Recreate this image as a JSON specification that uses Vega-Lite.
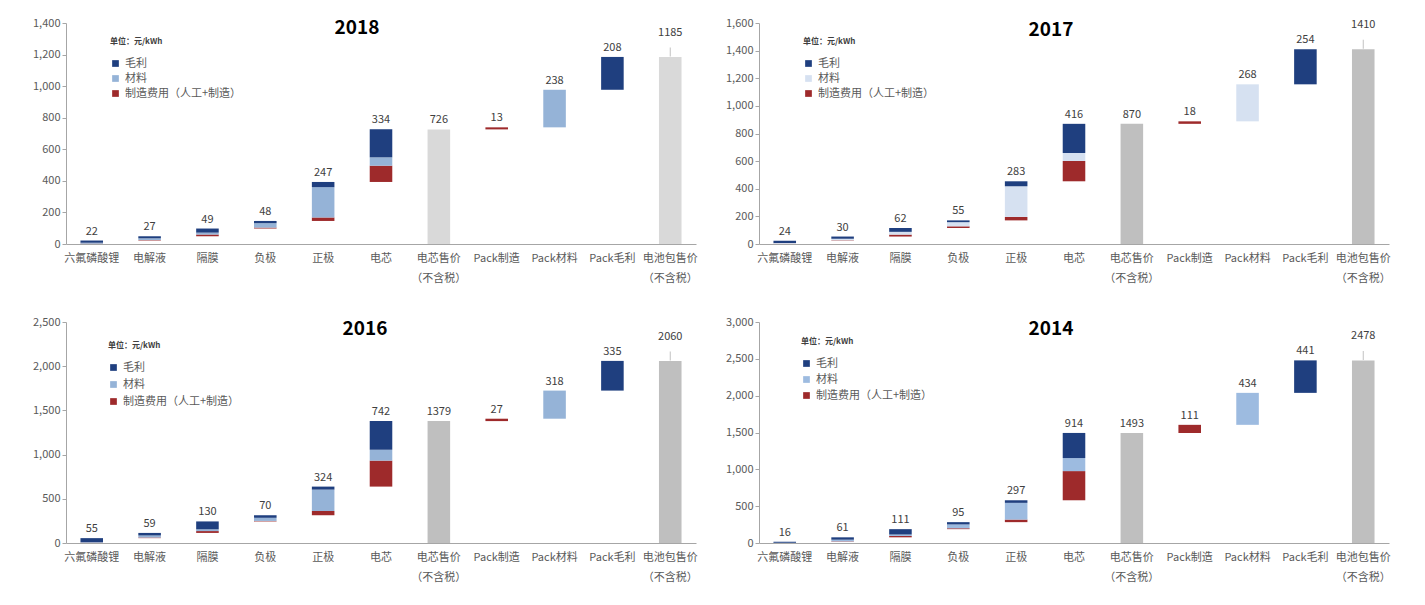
{
  "$schema": "https://vega.github.io/schema/vega-lite/v6.json",
  "background": "white",
  "padding": {"left": 32, "top": 17, "right": 10, "bottom": 5},
  "spacing": {"row": 33, "column": 27},
  "config": {
    "font": "Noto Sans CJK SC",
    "view": {"stroke": null},
    "axis": {"labelColor": "#595959", "labelFontSize": 11, "domainColor": "#a6a6a6", "tickColor": "#a6a6a6", "grid": false, "title": null},
    "title": {"font": "Noto Sans CJK SC", "fontSize": 19, "fontWeight": "bold", "color": "#000000"},
    "legend": {"labelFont": "Noto Sans CJK SC", "titleFont": "Noto Sans CJK SC"}
  },
  "datasets": {
    "seg": [
      {"p":"2018","c":"六氟磷酸锂","s":"制造费用（人工+制造）","a":0,"b":2},
      {"p":"2018","c":"六氟磷酸锂","s":"材料","a":2,"b":8},
      {"p":"2018","c":"六氟磷酸锂","s":"毛利","a":8,"b":22},
      {"p":"2018","c":"电解液","s":"制造费用（人工+制造）","a":22,"b":25},
      {"p":"2018","c":"电解液","s":"材料","a":25,"b":36},
      {"p":"2018","c":"电解液","s":"毛利","a":36,"b":49},
      {"p":"2018","c":"隔膜","s":"制造费用（人工+制造）","a":49,"b":60},
      {"p":"2018","c":"隔膜","s":"材料","a":60,"b":72},
      {"p":"2018","c":"隔膜","s":"毛利","a":72,"b":98},
      {"p":"2018","c":"负极","s":"制造费用（人工+制造）","a":98,"b":104},
      {"p":"2018","c":"负极","s":"材料","a":104,"b":132},
      {"p":"2018","c":"负极","s":"毛利","a":132,"b":146},
      {"p":"2018","c":"正极","s":"制造费用（人工+制造）","a":146,"b":168},
      {"p":"2018","c":"正极","s":"材料","a":168,"b":360},
      {"p":"2018","c":"正极","s":"毛利","a":360,"b":393},
      {"p":"2018","c":"电芯","s":"制造费用（人工+制造）","a":393,"b":496},
      {"p":"2018","c":"电芯","s":"材料","a":496,"b":549},
      {"p":"2018","c":"电芯","s":"毛利","a":549,"b":727},
      {"p":"2018","c":"电芯售价|（不含税）","s":"售价","a":0,"b":726},
      {"p":"2018","c":"Pack制造","s":"制造费用（人工+制造）","a":726,"b":739},
      {"p":"2018","c":"Pack材料","s":"材料","a":739,"b":977},
      {"p":"2018","c":"Pack毛利","s":"毛利","a":977,"b":1185},
      {"p":"2018","c":"电池包售价|（不含税）","s":"售价","a":0,"b":1185},

      {"p":"2017","c":"六氟磷酸锂","s":"制造费用（人工+制造）","a":0,"b":2},
      {"p":"2017","c":"六氟磷酸锂","s":"材料","a":2,"b":8},
      {"p":"2017","c":"六氟磷酸锂","s":"毛利","a":8,"b":24},
      {"p":"2017","c":"电解液","s":"制造费用（人工+制造）","a":24,"b":27},
      {"p":"2017","c":"电解液","s":"材料","a":27,"b":38},
      {"p":"2017","c":"电解液","s":"毛利","a":38,"b":54},
      {"p":"2017","c":"隔膜","s":"制造费用（人工+制造）","a":54,"b":68},
      {"p":"2017","c":"隔膜","s":"材料","a":68,"b":88},
      {"p":"2017","c":"隔膜","s":"毛利","a":88,"b":116},
      {"p":"2017","c":"负极","s":"制造费用（人工+制造）","a":116,"b":128},
      {"p":"2017","c":"负极","s":"材料","a":128,"b":158},
      {"p":"2017","c":"负极","s":"毛利","a":158,"b":171},
      {"p":"2017","c":"正极","s":"制造费用（人工+制造）","a":171,"b":196},
      {"p":"2017","c":"正极","s":"材料","a":196,"b":418},
      {"p":"2017","c":"正极","s":"毛利","a":418,"b":454},
      {"p":"2017","c":"电芯","s":"制造费用（人工+制造）","a":454,"b":601},
      {"p":"2017","c":"电芯","s":"材料","a":601,"b":659},
      {"p":"2017","c":"电芯","s":"毛利","a":659,"b":870},
      {"p":"2017","c":"电芯售价|（不含税）","s":"售价","a":0,"b":870},
      {"p":"2017","c":"Pack制造","s":"制造费用（人工+制造）","a":870,"b":888},
      {"p":"2017","c":"Pack材料","s":"材料","a":888,"b":1156},
      {"p":"2017","c":"Pack毛利","s":"毛利","a":1156,"b":1410},
      {"p":"2017","c":"电池包售价|（不含税）","s":"售价","a":0,"b":1410},

      {"p":"2016","c":"六氟磷酸锂","s":"制造费用（人工+制造）","a":0,"b":3},
      {"p":"2016","c":"六氟磷酸锂","s":"材料","a":3,"b":10},
      {"p":"2016","c":"六氟磷酸锂","s":"毛利","a":10,"b":55},
      {"p":"2016","c":"电解液","s":"制造费用（人工+制造）","a":55,"b":62},
      {"p":"2016","c":"电解液","s":"材料","a":62,"b":85},
      {"p":"2016","c":"电解液","s":"毛利","a":85,"b":114},
      {"p":"2016","c":"隔膜","s":"制造费用（人工+制造）","a":114,"b":135},
      {"p":"2016","c":"隔膜","s":"材料","a":135,"b":155},
      {"p":"2016","c":"隔膜","s":"毛利","a":155,"b":244},
      {"p":"2016","c":"负极","s":"制造费用（人工+制造）","a":244,"b":250},
      {"p":"2016","c":"负极","s":"材料","a":250,"b":285},
      {"p":"2016","c":"负极","s":"毛利","a":285,"b":314},
      {"p":"2016","c":"正极","s":"制造费用（人工+制造）","a":314,"b":362},
      {"p":"2016","c":"正极","s":"材料","a":362,"b":604},
      {"p":"2016","c":"正极","s":"毛利","a":604,"b":638},
      {"p":"2016","c":"电芯","s":"制造费用（人工+制造）","a":638,"b":932},
      {"p":"2016","c":"电芯","s":"材料","a":932,"b":1055},
      {"p":"2016","c":"电芯","s":"毛利","a":1055,"b":1380},
      {"p":"2016","c":"电芯售价|（不含税）","s":"售价","a":0,"b":1379},
      {"p":"2016","c":"Pack制造","s":"制造费用（人工+制造）","a":1379,"b":1406},
      {"p":"2016","c":"Pack材料","s":"材料","a":1406,"b":1724},
      {"p":"2016","c":"Pack毛利","s":"毛利","a":1724,"b":2060},
      {"p":"2016","c":"电池包售价|（不含税）","s":"售价","a":0,"b":2060},

      {"p":"2014","c":"六氟磷酸锂","s":"制造费用（人工+制造）","a":0,"b":1},
      {"p":"2014","c":"六氟磷酸锂","s":"材料","a":1,"b":5},
      {"p":"2014","c":"六氟磷酸锂","s":"毛利","a":5,"b":16},
      {"p":"2014","c":"电解液","s":"制造费用（人工+制造）","a":16,"b":22},
      {"p":"2014","c":"电解液","s":"材料","a":22,"b":45},
      {"p":"2014","c":"电解液","s":"毛利","a":45,"b":77},
      {"p":"2014","c":"隔膜","s":"制造费用（人工+制造）","a":77,"b":95},
      {"p":"2014","c":"隔膜","s":"材料","a":95,"b":115},
      {"p":"2014","c":"隔膜","s":"毛利","a":115,"b":188},
      {"p":"2014","c":"负极","s":"制造费用（人工+制造）","a":188,"b":200},
      {"p":"2014","c":"负极","s":"材料","a":200,"b":252},
      {"p":"2014","c":"负极","s":"毛利","a":252,"b":283},
      {"p":"2014","c":"正极","s":"制造费用（人工+制造）","a":283,"b":318},
      {"p":"2014","c":"正极","s":"材料","a":318,"b":545},
      {"p":"2014","c":"正极","s":"毛利","a":545,"b":580},
      {"p":"2014","c":"电芯","s":"制造费用（人工+制造）","a":580,"b":976},
      {"p":"2014","c":"电芯","s":"材料","a":976,"b":1153},
      {"p":"2014","c":"电芯","s":"毛利","a":1153,"b":1494},
      {"p":"2014","c":"电芯售价|（不含税）","s":"售价","a":0,"b":1493},
      {"p":"2014","c":"Pack制造","s":"制造费用（人工+制造）","a":1493,"b":1604},
      {"p":"2014","c":"Pack材料","s":"材料","a":1604,"b":2038},
      {"p":"2014","c":"Pack毛利","s":"毛利","a":2038,"b":2479},
      {"p":"2014","c":"电池包售价|（不含税）","s":"售价","a":0,"b":2478}
    ],
    "lab": [
      {"p":"2018","c":"六氟磷酸锂","v":"22","t":22},
      {"p":"2018","c":"电解液","v":"27","t":49},
      {"p":"2018","c":"隔膜","v":"49","t":98},
      {"p":"2018","c":"负极","v":"48","t":146},
      {"p":"2018","c":"正极","v":"247","t":393},
      {"p":"2018","c":"电芯","v":"334","t":727},
      {"p":"2018","c":"电芯售价|（不含税）","v":"726","t":726},
      {"p":"2018","c":"Pack制造","v":"13","t":739},
      {"p":"2018","c":"Pack材料","v":"238","t":977},
      {"p":"2018","c":"Pack毛利","v":"208","t":1185},
      {"p":"2018","c":"电池包售价|（不含税）","v":"1185","t":1185},
      {"p":"2017","c":"六氟磷酸锂","v":"24","t":24},
      {"p":"2017","c":"电解液","v":"30","t":54},
      {"p":"2017","c":"隔膜","v":"62","t":116},
      {"p":"2017","c":"负极","v":"55","t":171},
      {"p":"2017","c":"正极","v":"283","t":454},
      {"p":"2017","c":"电芯","v":"416","t":870},
      {"p":"2017","c":"电芯售价|（不含税）","v":"870","t":870},
      {"p":"2017","c":"Pack制造","v":"18","t":888},
      {"p":"2017","c":"Pack材料","v":"268","t":1156},
      {"p":"2017","c":"Pack毛利","v":"254","t":1410},
      {"p":"2017","c":"电池包售价|（不含税）","v":"1410","t":1410},
      {"p":"2016","c":"六氟磷酸锂","v":"55","t":55},
      {"p":"2016","c":"电解液","v":"59","t":114},
      {"p":"2016","c":"隔膜","v":"130","t":244},
      {"p":"2016","c":"负极","v":"70","t":314},
      {"p":"2016","c":"正极","v":"324","t":638},
      {"p":"2016","c":"电芯","v":"742","t":1380},
      {"p":"2016","c":"电芯售价|（不含税）","v":"1379","t":1379},
      {"p":"2016","c":"Pack制造","v":"27","t":1406},
      {"p":"2016","c":"Pack材料","v":"318","t":1724},
      {"p":"2016","c":"Pack毛利","v":"335","t":2060},
      {"p":"2016","c":"电池包售价|（不含税）","v":"2060","t":2060},
      {"p":"2014","c":"六氟磷酸锂","v":"16","t":16},
      {"p":"2014","c":"电解液","v":"61","t":77},
      {"p":"2014","c":"隔膜","v":"111","t":188},
      {"p":"2014","c":"负极","v":"95","t":283},
      {"p":"2014","c":"正极","v":"297","t":580},
      {"p":"2014","c":"电芯","v":"914","t":1494},
      {"p":"2014","c":"电芯售价|（不含税）","v":"1493","t":1493},
      {"p":"2014","c":"Pack制造","v":"111","t":1604},
      {"p":"2014","c":"Pack材料","v":"434","t":2038},
      {"p":"2014","c":"Pack毛利","v":"441","t":2479},
      {"p":"2014","c":"电池包售价|（不含税）","v":"2478","t":2478}
    ]
  },
  "columns": 2,
  "resolve": {"scale": {"y": "independent", "color": "independent", "x": "independent"}, "legend": {"color": "independent"}, "axis": {"y": "independent", "x": "independent"}},
  "concat": [
    {
      "title": {"text": "2018", "offset": -21, "dx": -24},
      "width": 630, "height": 221,
      "layer": [
        {"data": {"name": "seg"}, "transform": [{"filter": "datum.p == '2018'"}],
         "mark": {"type": "bar"},
         "encoding": {
           "x": {"field": "c", "type": "nominal", "sort": null, "scale": {"domain": ["六氟磷酸锂","电解液","隔膜","负极","正极","电芯","电芯售价|（不含税）","Pack制造","Pack材料","Pack毛利","电池包售价|（不含税）"], "paddingInner": 0.61, "paddingOuter": 0.25}, "axis": {"labelAngle": 0, "ticks": false, "labelExpr": "split(datum.label, '|')", "labelPadding": 8, "labelLineHeight": 20}},
           "y": {"field": "a", "type": "quantitative", "scale": {"domain": [0, 1400], "nice": false}, "axis": {"values": [0,200,400,600,800,1000,1200,1400], "tickCount": 20, "format": ",.0f", "tickSize": 4, "labelOverlap": false}},
           "y2": {"field": "b"},
           "color": {"field": "s", "type": "nominal", "scale": {"domain": ["毛利","材料","制造费用（人工+制造）","售价"], "range": ["#1f3f7f","#95b3d7","#9e2a2b","#d9d9d9"]},
             "legend": {"values": ["毛利","材料","制造费用（人工+制造）"], "title": "单位：元/kWh", "titleFontSize": 8, "titleFontWeight": "bold", "titleColor": "#404040", "titlePadding": 12, "labelFontSize": 11, "labelColor": "#595959", "symbolType": "square", "symbolSize": 45, "rowPadding": 3, "orient": "none", "legendX": 44, "legendY": 15}}
         }},
        {"data": {"name": "lab"}, "transform": [{"filter": "datum.p == '2018' && datum.c != '电池包售价|（不含税）'"}],
         "mark": {"type": "text", "dy": -9, "fontSize": 11, "color": "#404040"},
         "encoding": {"x": {"field": "c", "type": "nominal", "sort": null}, "y": {"field": "t", "type": "quantitative"}, "text": {"field": "v"}}},
        {"data": {"name": "lab"}, "transform": [{"filter": "datum.p == '2018' && datum.c == '电池包售价|（不含税）'"}],
         "mark": {"type": "text", "dy": -24, "fontSize": 11, "color": "#404040"},
         "encoding": {"x": {"field": "c", "type": "nominal", "sort": null}, "y": {"field": "t", "type": "quantitative"}, "text": {"field": "v"}}},
        {"data": {"name": "lab"}, "transform": [{"filter": "datum.p == '2018' && datum.c == '电池包售价|（不含税）'"}],
         "mark": {"type": "tick", "orient": "vertical", "size": 9, "thickness": 1, "yOffset": -5, "color": "#a6a6a6"},
         "encoding": {"x": {"field": "c", "type": "nominal", "sort": null}, "y": {"field": "t", "type": "quantitative"}}}
      ]
    },
    {
      "title": {"text": "2017", "offset": -23, "dx": -23},
      "width": 630, "height": 221,
      "layer": [
        {"data": {"name": "seg"}, "transform": [{"filter": "datum.p == '2017'"}],
         "mark": {"type": "bar"},
         "encoding": {
           "x": {"field": "c", "type": "nominal", "sort": null, "scale": {"domain": ["六氟磷酸锂","电解液","隔膜","负极","正极","电芯","电芯售价|（不含税）","Pack制造","Pack材料","Pack毛利","电池包售价|（不含税）"], "paddingInner": 0.61, "paddingOuter": 0.25}, "axis": {"labelAngle": 0, "ticks": false, "labelExpr": "split(datum.label, '|')", "labelPadding": 8, "labelLineHeight": 20}},
           "y": {"field": "a", "type": "quantitative", "scale": {"domain": [0, 1600], "nice": false}, "axis": {"values": [0,200,400,600,800,1000,1200,1400,1600], "tickCount": 20, "format": ",.0f", "tickSize": 4, "labelOverlap": false}},
           "y2": {"field": "b"},
           "color": {"field": "s", "type": "nominal", "scale": {"domain": ["毛利","材料","制造费用（人工+制造）","售价"], "range": ["#1f3f7f","#d6e1f1","#9e2a2b","#bfbfbf"]},
             "legend": {"values": ["毛利","材料","制造费用（人工+制造）"], "title": "单位：元/kWh", "titleFontSize": 8, "titleFontWeight": "bold", "titleColor": "#404040", "titlePadding": 12, "labelFontSize": 11, "labelColor": "#595959", "symbolType": "square", "symbolSize": 45, "rowPadding": 3, "orient": "none", "legendX": 44, "legendY": 15}}
         }},
        {"data": {"name": "lab"}, "transform": [{"filter": "datum.p == '2017' && datum.c != '电池包售价|（不含税）'"}],
         "mark": {"type": "text", "dy": -9, "fontSize": 11, "color": "#404040"},
         "encoding": {"x": {"field": "c", "type": "nominal", "sort": null}, "y": {"field": "t", "type": "quantitative"}, "text": {"field": "v"}}},
        {"data": {"name": "lab"}, "transform": [{"filter": "datum.p == '2017' && datum.c == '电池包售价|（不含税）'"}],
         "mark": {"type": "text", "dy": -24, "fontSize": 11, "color": "#404040"},
         "encoding": {"x": {"field": "c", "type": "nominal", "sort": null}, "y": {"field": "t", "type": "quantitative"}, "text": {"field": "v"}}},
        {"data": {"name": "lab"}, "transform": [{"filter": "datum.p == '2017' && datum.c == '电池包售价|（不含税）'"}],
         "mark": {"type": "tick", "orient": "vertical", "size": 9, "thickness": 1, "yOffset": -5, "color": "#a6a6a6"},
         "encoding": {"x": {"field": "c", "type": "nominal", "sort": null}, "y": {"field": "t", "type": "quantitative"}}}
      ]
    },
    {
      "title": {"text": "2016", "offset": -23, "dx": -16},
      "width": 630, "height": 221,
      "layer": [
        {"data": {"name": "seg"}, "transform": [{"filter": "datum.p == '2016'"}],
         "mark": {"type": "bar"},
         "encoding": {
           "x": {"field": "c", "type": "nominal", "sort": null, "scale": {"domain": ["六氟磷酸锂","电解液","隔膜","负极","正极","电芯","电芯售价|（不含税）","Pack制造","Pack材料","Pack毛利","电池包售价|（不含税）"], "paddingInner": 0.61, "paddingOuter": 0.25}, "axis": {"labelAngle": 0, "ticks": false, "labelExpr": "split(datum.label, '|')", "labelPadding": 8, "labelLineHeight": 20}},
           "y": {"field": "a", "type": "quantitative", "scale": {"domain": [0, 2500], "nice": false}, "axis": {"values": [0,500,1000,1500,2000,2500], "tickCount": 20, "format": ",.0f", "tickSize": 4, "labelOverlap": false}},
           "y2": {"field": "b"},
           "color": {"field": "s", "type": "nominal", "scale": {"domain": ["毛利","材料","制造费用（人工+制造）","售价"], "range": ["#1f3f7f","#95b3d7","#9e2a2b","#bfbfbf"]},
             "legend": {"values": ["毛利","材料","制造费用（人工+制造）"], "title": "单位：元/kWh", "titleFontSize": 8, "titleFontWeight": "bold", "titleColor": "#404040", "titlePadding": 12, "labelFontSize": 11, "labelColor": "#595959", "symbolType": "square", "symbolSize": 45, "rowPadding": 5, "orient": "none", "legendX": 42, "legendY": 20}}
         }},
        {"data": {"name": "lab"}, "transform": [{"filter": "datum.p == '2016' && datum.c != '电池包售价|（不含税）'"}],
         "mark": {"type": "text", "dy": -9, "fontSize": 11, "color": "#404040"},
         "encoding": {"x": {"field": "c", "type": "nominal", "sort": null}, "y": {"field": "t", "type": "quantitative"}, "text": {"field": "v"}}},
        {"data": {"name": "lab"}, "transform": [{"filter": "datum.p == '2016' && datum.c == '电池包售价|（不含税）'"}],
         "mark": {"type": "text", "dy": -24, "fontSize": 11, "color": "#404040"},
         "encoding": {"x": {"field": "c", "type": "nominal", "sort": null}, "y": {"field": "t", "type": "quantitative"}, "text": {"field": "v"}}},
        {"data": {"name": "lab"}, "transform": [{"filter": "datum.p == '2016' && datum.c == '电池包售价|（不含税）'"}],
         "mark": {"type": "tick", "orient": "vertical", "size": 9, "thickness": 1, "yOffset": -5, "color": "#a6a6a6"},
         "encoding": {"x": {"field": "c", "type": "nominal", "sort": null}, "y": {"field": "t", "type": "quantitative"}}}
      ]
    },
    {
      "title": {"text": "2014", "offset": -23, "dx": -23},
      "width": 630, "height": 221,
      "layer": [
        {"data": {"name": "seg"}, "transform": [{"filter": "datum.p == '2014'"}],
         "mark": {"type": "bar"},
         "encoding": {
           "x": {"field": "c", "type": "nominal", "sort": null, "scale": {"domain": ["六氟磷酸锂","电解液","隔膜","负极","正极","电芯","电芯售价|（不含税）","Pack制造","Pack材料","Pack毛利","电池包售价|（不含税）"], "paddingInner": 0.61, "paddingOuter": 0.25}, "axis": {"labelAngle": 0, "ticks": false, "labelExpr": "split(datum.label, '|')", "labelPadding": 8, "labelLineHeight": 20}},
           "y": {"field": "a", "type": "quantitative", "scale": {"domain": [0, 3000], "nice": false}, "axis": {"values": [0,500,1000,1500,2000,2500,3000], "tickCount": 20, "format": ",.0f", "tickSize": 4, "labelOverlap": false}},
           "y2": {"field": "b"},
           "color": {"field": "s", "type": "nominal", "scale": {"domain": ["毛利","材料","制造费用（人工+制造）","售价"], "range": ["#1f3f7f","#9dbbe0","#9e2a2b","#bfbfbf"]},
             "legend": {"values": ["毛利","材料","制造费用（人工+制造）"], "title": "单位：元/kWh", "titleFontSize": 8, "titleFontWeight": "bold", "titleColor": "#404040", "titlePadding": 12, "labelFontSize": 11, "labelColor": "#595959", "symbolType": "square", "symbolSize": 45, "rowPadding": 4, "orient": "none", "legendX": 42, "legendY": 16}}
         }},
        {"data": {"name": "lab"}, "transform": [{"filter": "datum.p == '2014' && datum.c != '电池包售价|（不含税）'"}],
         "mark": {"type": "text", "dy": -9, "fontSize": 11, "color": "#404040"},
         "encoding": {"x": {"field": "c", "type": "nominal", "sort": null}, "y": {"field": "t", "type": "quantitative"}, "text": {"field": "v"}}},
        {"data": {"name": "lab"}, "transform": [{"filter": "datum.p == '2014' && datum.c == '电池包售价|（不含税）'"}],
         "mark": {"type": "text", "dy": -24, "fontSize": 11, "color": "#404040"},
         "encoding": {"x": {"field": "c", "type": "nominal", "sort": null}, "y": {"field": "t", "type": "quantitative"}, "text": {"field": "v"}}},
        {"data": {"name": "lab"}, "transform": [{"filter": "datum.p == '2014' && datum.c == '电池包售价|（不含税）'"}],
         "mark": {"type": "tick", "orient": "vertical", "size": 9, "thickness": 1, "yOffset": -5, "color": "#a6a6a6"},
         "encoding": {"x": {"field": "c", "type": "nominal", "sort": null}, "y": {"field": "t", "type": "quantitative"}}}
      ]
    }
  ]
}
